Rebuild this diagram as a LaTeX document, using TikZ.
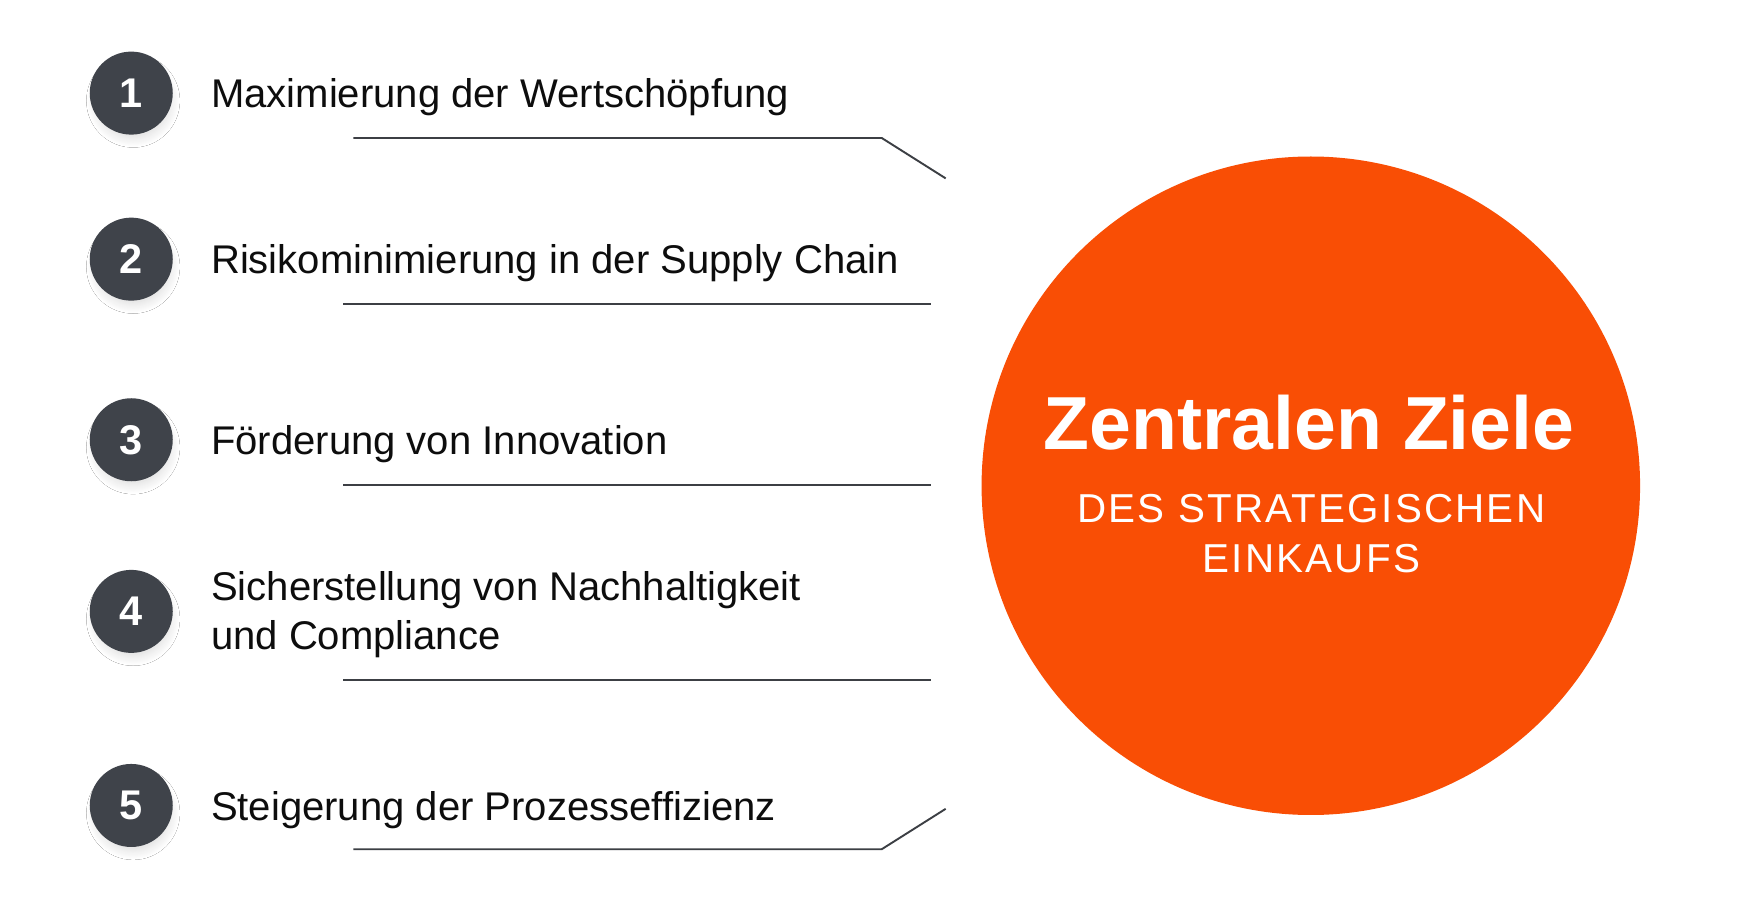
\documentclass[tikz,border=0pt]{standalone}
\usepackage{fontspec}
\setmainfont{Liberation Sans}
\usetikzlibrary{shadows.blur}
\definecolor{numgray}{HTML}{3F434A}
\definecolor{lineg}{HTML}{3C3F44}
\definecolor{orng}{HTML}{F94E05}
\definecolor{txt}{HTML}{0D0D0D}
\begin{document}
\begin{tikzpicture}[x=1pt,y=-1pt,
  num/.style={circle, fill=numgray, minimum size=74pt, inner sep=0pt, text=white,
    font=\fontsize{37}{44}\selectfont\bfseries,
    blur shadow={shadow xshift=2pt, shadow yshift=-8pt, shadow blur radius=12pt, shadow blur steps=25, shadow scale=0.85, shadow opacity=18}},
  item/.style={anchor=base west, inner sep=0pt, text=txt, font=\fontsize{35.7}{43}\selectfont},
  item2/.style={anchor=west, inner sep=0pt, text=txt, align=left, font=\fontsize{35.7}{43}\selectfont},
  conn/.style={draw=lineg, line width=1.7pt, line join=miter},
  subt/.style={anchor=base, inner sep=0pt, text=white, font=\fontsize{36}{44}\selectfont\addfontfeatures{LetterSpace=5.5}}]
\fill[white] (0,0) rectangle (1560,820);
\useasboundingbox (0,0) rectangle (1560,820);

% hub
\node[circle, fill=orng, minimum size=587pt, inner sep=0pt] (hub) at (1168.5,433) {};
\node[anchor=base, inner sep=0pt, text=white, font=\fontsize{67}{80}\selectfont\bfseries] (title) at (1167,401) {Zentralen Ziele};
\node[subt] (sub1) at (1169,466) {DES STRATEGISCHEN};
\node[subt] (sub2) at (1169,510) {EINKAUFS};

% numbers
\node[num] (n1) at (117,83) {1};
\node[num] (n2) at (117,231) {2};
\node[num] (n3) at (117,392) {3};
\node[num] (n4) at (117,545) {4};
\node[num] (n5) at (117,718) {5};

% items
\node[item] (t1) at (188,96) {Maximierung der Wertschöpfung};
\node[item] (t2) at (188,244) {Risikominimierung in der Supply Chain};
\node[item] (t3) at (188,405) {Förderung von Innovation};
\node[item2] (t4) at (188,548) {Sicherstellung von Nachhaltigkeit\\und Compliance};
\node[item] (t5) at (188,731) {Steigerung der Prozesseffizienz};

% connector lines
\coordinate (a1) at (315,123); \coordinate (b1) at (786,123); \coordinate (c1) at (843,159);
\coordinate (a2) at (306,271); \coordinate (b2) at (830,271);
\coordinate (a3) at (306,432); \coordinate (b3) at (830,432);
\coordinate (a4) at (306,606); \coordinate (b4) at (830,606);
\coordinate (a5) at (315,757); \coordinate (b5) at (786,757); \coordinate (c5) at (843,721);
\draw[conn] (a1) -- (b1) -- (c1);
\draw[conn] (a2) -- (b2);
\draw[conn] (a3) -- (b3);
\draw[conn] (a4) -- (b4);
\draw[conn] (a5) -- (b5) -- (c5);
\end{tikzpicture}
\end{document}
